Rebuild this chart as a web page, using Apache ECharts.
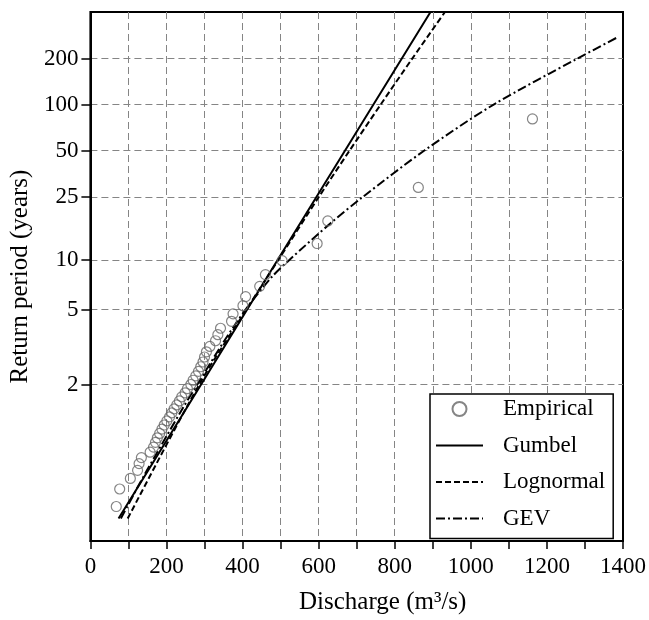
<!DOCTYPE html>
<html>
<head>
<meta charset="utf-8">
<script src="https://cdn.jsdelivr.net/npm/echarts@6/dist/echarts.min.js"></script>
<style>
  html, body { margin: 0; padding: 0; background: #fff; }
  #chart { width: 649px; height: 620px; }
</style>
</head>
<body>
<div id="chart"></div>
<script>
// y axis is a Gumbel probability scale: return periods are mapped to the reduced variate
var tickPeriods = [2, 5, 10, 25, 50, 100, 200];
var tickLabels = ['2', '5', '10', '25', '50', '100', '200'];

// empirical points (discharge m3/s, return period years)
var empQ = [68, 77, 105, 124, 128, 134, 157, 166, 171, 176, 182, 188, 194, 201, 208, 214, 220, 227, 234, 240,
  249, 255, 264, 270, 277, 284, 290, 296, 300, 305, 314, 329, 335, 342, 371, 375, 401, 408, 445, 460,
  504, 596, 624, 862, 1162];
var empT = [1.0126, 1.0358, 1.0602, 1.0857, 1.1124, 1.1406, 1.1701, 1.2013, 1.2341, 1.2688, 1.3056, 1.3445,
  1.3857, 1.4297, 1.4764, 1.5264, 1.5798, 1.6372, 1.6988, 1.7653, 1.8371, 1.9151, 2.0, 2.093, 2.195, 2.307,
  2.431, 2.569, 2.725, 2.900, 3.099, 3.327, 3.592, 3.903, 4.273, 4.720, 5.271, 5.968, 6.878, 8.115, 9.895,
  12.674, 17.625, 28.92, 80.57];

var gumbelQ = [74, 291, 492, 744, 894];
var gumbelT = [1.0052, 2, 10, 100, 403.9];

var lognormQ = [98, 286, 410, 494, 600, 681, 763, 846, 932];
var lognormT = [1.0052, 2, 5, 10, 25, 50, 100, 200, 403.9];

var gevQ = [80, 142, 242, 281, 349, 408, 478, 523, 632, 715, 877, 1060, 1280, 1383];
var gevT = [1.0052, 1.0707, 1.582, 2, 3.25, 5, 7.9, 10, 17.1, 25, 50, 100, 200, 273.6];

function redVar(T) {
  return -Math.log(-Math.log(1 - 1 / T));
}
function pairs(q, t) {
  return q.map(function(v, i) { return [v, redVar(t[i])]; });
}

var font = 'Liberation Serif';
var ink = '#000';
var gridColor = '#858585';
var tickVals = tickPeriods.map(redVar);
var noSymbol = { color: 'rgba(0,0,0,0)', borderWidth: 0 };

var chart = echarts.init(document.getElementById('chart'), null, { renderer: 'canvas' });
chart.setOption({
  animation: false,
  backgroundColor: '#fff',
  textStyle: { fontFamily: font, color: ink },
  grid: { left: 88, right: 26, top: 12, bottom: 74, show: true, borderColor: ink, borderWidth: 2 },
  legend: {
    orient: 'vertical',
    left: 430,
    top: 394,
    data: [
      { name: 'Empirical' },
      { name: 'Gumbel', itemStyle: noSymbol },
      { name: 'Lognormal', itemStyle: noSymbol },
      { name: 'GEV', itemStyle: noSymbol }
    ],
    itemWidth: 47,
    itemHeight: 14,
    itemGap: 10.5,
    padding: [2, 8, 7, 5],
    borderColor: ink,
    borderWidth: 1.5,
    backgroundColor: '#fff',
    textStyle: { fontFamily: font, fontSize: 23, color: ink, lineHeight: 26, padding: [0, 0, 0, 15] }
  },
  xAxis: {
    type: 'value',
    min: 0,
    max: 1400,
    interval: 100,
    name: 'Discharge (m³/s)',
    nameLocation: 'middle',
    nameGap: 49,
    nameTextStyle: { fontFamily: font, fontSize: 25, color: ink, padding: [0, 0, 0, 52] },
    axisLine: { onZero: false, lineStyle: { color: ink, width: 2 } },
    axisTick: { length: 8, lineStyle: { color: ink, width: 1.5 } },
    axisLabel: {
      fontFamily: font, fontSize: 23, color: ink, margin: 14,
      formatter: function(v) { return v % 200 === 0 ? String(v) : ''; }
    },
    splitLine: { show: true, showMinLine: false, showMaxLine: false, lineStyle: { color: gridColor, type: [7, 4], width: 1 } }
  },
  yAxis: {
    type: 'value',
    min: -2,
    max: 6,
    name: 'Return period (years)',
    nameLocation: 'middle',
    nameGap: 53,
    nameTextStyle: { fontFamily: font, fontSize: 25, color: ink },
    axisLine: { onZero: false, lineStyle: { color: ink, width: 2 } },
    axisTick: { length: 9, customValues: tickVals, lineStyle: { color: ink, width: 1.5 } },
    axisLabel: {
      fontFamily: font, fontSize: 23, color: ink, margin: 12,
      customValues: tickVals,
      formatter: function(v) {
        for (var i = 0; i < tickVals.length; i++) {
          if (Math.abs(tickVals[i] - v) < 1e-6) return tickLabels[i];
        }
        return '';
      }
    },
    splitLine: { show: true, lineStyle: { color: gridColor, type: [7, 4], width: 1 } }
  },
  series: [
    {
      name: 'Empirical',
      type: 'scatter',
      symbol: 'circle',
      symbolSize: 10,
      itemStyle: { color: 'rgba(255,255,255,0)', borderColor: '#666', borderWidth: 1.2 },
      data: pairs(empQ, empT),
      z: 3
    },
    {
      name: 'Gumbel',
      type: 'line',
      symbol: 'none',
      lineStyle: { color: ink, width: 2, type: 'solid' },
      itemStyle: { color: ink },
      data: pairs(gumbelQ, gumbelT)
    },
    {
      name: 'Lognormal',
      type: 'line',
      symbol: 'none',
      smooth: 0.3,
      lineStyle: { color: ink, width: 2, type: [6, 3] },
      itemStyle: { color: ink },
      data: pairs(lognormQ, lognormT)
    },
    {
      name: 'GEV',
      type: 'line',
      symbol: 'none',
      smooth: 0.3,
      lineStyle: { color: ink, width: 2, type: [9, 3, 2, 3] },
      itemStyle: { color: ink },
      data: pairs(gevQ, gevT)
    }
  ]
});
window.addEventListener('resize', function() { chart.resize(); });
</script>
</body>
</html>
